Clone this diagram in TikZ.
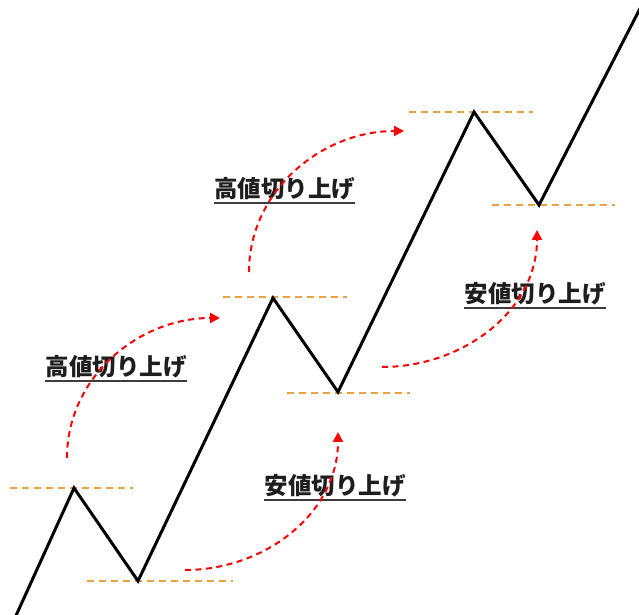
\documentclass[tikz,border=0pt]{standalone}
\usepackage{fontspec}
\newfontfamily\jp{Noto Sans CJK JP}
\usetikzlibrary{arrows.meta}
\definecolor{lvl}{RGB}{236,160,64}
\definecolor{arr}{RGB}{255,0,0}
\definecolor{txt}{RGB}{30,30,30}
\definecolor{uline}{RGB}{60,60,60}
\tikzset{
  price/.style={line width=3bp, black, line join=miter},
  level/.style={line width=1.6bp, lvl, dash pattern=on 7bp off 5bp},
  move/.style={line width=2bp, arr, dash pattern=on 6bp off 4.5bp, -{Triangle[length=10bp,width=10bp]}},
  lbl/.style={inner sep=0pt, anchor=base, text=txt, font=\jp\bfseries\fontsize{23.5bp}{28bp}\selectfont},
  ul/.style={line width=1.6bp, uline}
}
\begin{document}
\begin{tikzpicture}[x=1bp,y=1bp]
\useasboundingbox (0,0) rectangle (639,615);
\clip (0,0) rectangle (639,615);
\fill[white] (0,0) rectangle (639,615);
% levels
\coordinate (l1a) at (10,127);  \coordinate (l1b) at (133,127);
\coordinate (l2a) at (87,34);   \coordinate (l2b) at (233,34);
\coordinate (l3a) at (223,318); \coordinate (l3b) at (347,318);
\coordinate (l4a) at (287,222); \coordinate (l4b) at (410,222);
\coordinate (l5a) at (409,503); \coordinate (l5b) at (533,503);
\coordinate (l6a) at (492,410); \coordinate (l6b) at (615,410);
\draw[level] (l1a) -- (l1b);
\draw[level] (l2a) -- (l2b);
\draw[level] (l3a) -- (l3b);
\draw[level] (l4a) -- (l4b);
\draw[level] (l5a) -- (l5b);
\draw[level] (l6a) -- (l6b);
% price path
\coordinate (s) at (14,-5);
\coordinate (p1) at (74,127);
\coordinate (t1) at (138,34);
\coordinate (p2) at (273,317);
\coordinate (t2) at (338,223);
\coordinate (p3) at (474,503);
\coordinate (t3) at (539,410);
\coordinate (e) at (647,620);
\draw[price] (s) -- (p1) -- (t1) -- (p2) -- (t2) -- (p3) -- (t3) -- (e);
% labels
\node[lbl] (h1) at (116,239.5) {高値切り上げ};
\node[lbl] (h2) at (284.5,417.5) {高値切り上げ};
\node[lbl] (y1) at (335,120.5) {安値切り上げ};
\node[lbl] (y2) at (535,312.5) {安値切り上げ};
\foreach \n in {h1,h2,y1,y2}
  \draw[ul] ([yshift=-5.5bp]\n.base west) -- ([yshift=-5.5bp]\n.base east);
% arrows
\coordinate (a1s) at (67,157);  \coordinate (a1e) at (220,297);
\coordinate (a2s) at (249,343); \coordinate (a2e) at (404,484);
\coordinate (a3s) at (185,45);  \coordinate (a3e) at (338,183);
\coordinate (a4s) at (382,248); \coordinate (a4e) at (537,385);
\draw[move] (a1s) to[out=90,in=180] (a1e);
\draw[move] (a2s) to[out=90,in=180] (a2e);
\draw[move] (a3s) to[out=0,in=-90] (a3e);
\draw[move] (a4s) to[out=0,in=-90] (a4e);
\end{tikzpicture}
\end{document}
